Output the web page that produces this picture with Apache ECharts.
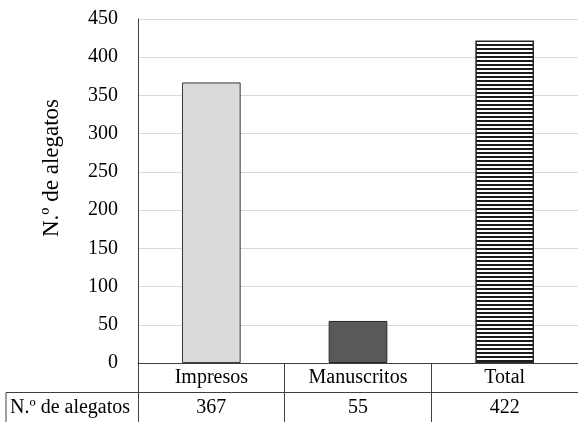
<!DOCTYPE html>
<html>
<head>
<meta charset="utf-8">
<script src="https://cdn.jsdelivr.net/npm/echarts@6/dist/echarts.min.js"></script>
<style>
  html, body { margin: 0; padding: 0; background: #fff; }
  #chart { width: 578px; height: 422px; }
</style>
</head>
<body>
<div id="chart"></div>
<script>
// Number of legal briefs (alegatos) by type
const categories = ['Impresos', 'Manuscritos', 'Total'];
const alegatos = [367, 55, 422];
const rowLabel = 'N.º de alegatos';
const yTicks = { min: 0, max: 450, step: 50 };

const FONT = '"Liberation Serif", "Times New Roman", serif';

// Horizontal stripe fill for the total bar
function stripePattern() {
  const c = document.createElement('canvas');
  c.width = 8; c.height = 4;
  const ctx = c.getContext('2d');
  ctx.fillStyle = '#ffffff';
  ctx.fillRect(0, 0, 8, 4);
  ctx.fillStyle = '#1a1a1a';
  ctx.fillRect(0, 0, 8, 2);
  return c;
}

const fills = [
  { color: '#d9d9d9', borderColor: '#3a3a3a', borderWidth: 1 },
  { color: '#595959', borderColor: '#262626', borderWidth: 1 },
  { color: { image: stripePattern(), repeat: 'repeat' }, borderColor: '#262626', borderWidth: 1.5 }
];

const chart = echarts.init(document.getElementById('chart'), null, { renderer: 'canvas' });

const gridLeft = 138, gridTop = 19, gridBottom = 59;
const H = 422, W = 578;
const axisY = H - gridBottom;   // baseline of the plot
const rowH = 29.5;

chart.setOption({
  animation: false,
  backgroundColor: '#fff',
  grid: { left: gridLeft, right: 0, top: gridTop, bottom: gridBottom },
  xAxis: [
    {
      type: 'category',
      data: categories,
      position: 'bottom',
      axisLine: { show: true, lineStyle: { color: '#404040', width: 1 } },
      axisTick: { show: true, alignWithLabel: false, length: rowH * 2, lineStyle: { color: '#404040', width: 1 } },
      axisLabel: { color: '#000', fontFamily: FONT, fontSize: 20, margin: 5 },
      splitLine: { show: false }
    },
    {
      type: 'category',
      data: alegatos.map(String),
      position: 'bottom',
      offset: rowH,
      axisLine: { show: false },
      axisTick: { show: false },
      axisLabel: { color: '#000', fontFamily: FONT, fontSize: 20, margin: 5 },
      splitLine: { show: false }
    }
  ],
  yAxis: {
    type: 'value',
    min: yTicks.min,
    max: yTicks.max,
    interval: yTicks.step,
    axisLine: { show: true, lineStyle: { color: '#404040', width: 1 } },
    axisTick: { show: false },
    axisLabel: { color: '#000', fontFamily: FONT, fontSize: 20, margin: 20 },
    splitLine: { show: true, lineStyle: { color: '#d9d9d9', width: 1 } }
  },
  series: [
    {
      type: 'bar',
      xAxisIndex: 0,
      barWidth: '40%',
      data: alegatos.map((v, i) => ({ value: v, itemStyle: fills[i] }))
    }
  ],
  graphic: [
    // vertical axis title
    {
      type: 'text',
      x: 52,
      y: 168,
      rotation: Math.PI / 2,
      style: {
        text: rowLabel,
        fill: '#000',
        font: '23px ' + FONT,
        textAlign: 'center',
        textVerticalAlign: 'middle'
      },
      silent: true
    },
    // data table: separator between the category row and the value row
    {
      type: 'line',
      shape: { x1: 6, y1: axisY + rowH, x2: W, y2: axisY + rowH },
      style: { stroke: '#404040', lineWidth: 1 },
      silent: true
    },
    // left border of the row header cell
    {
      type: 'line',
      shape: { x1: 6, y1: axisY + rowH, x2: 6, y2: H },
      style: { stroke: '#404040', lineWidth: 1 },
      silent: true
    },
    // row header
    {
      type: 'text',
      x: 10,
      y: axisY + rowH + rowH / 2,
      style: {
        text: rowLabel,
        fill: '#000',
        font: '20px ' + FONT,
        textVerticalAlign: 'middle',
        textAlign: 'left'
      },
      silent: true
    }
  ]
});
</script>
</body>
</html>
